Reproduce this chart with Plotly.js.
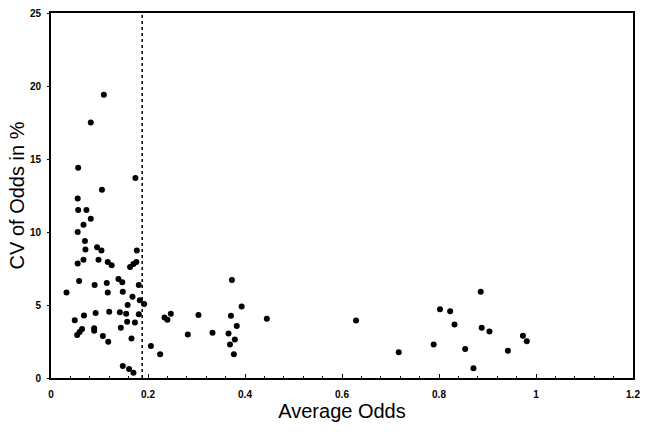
<!DOCTYPE html>
<html><head><meta charset="utf-8">
<script src="https://cdn.plot.ly/plotly-3.0.1.min.js"></script>
<style>html,body{margin:0;padding:0;background:#fff}#chart{width:645px;height:432px}</style>
</head><body><div id="chart"></div>
<script>
const avgOdds = [0.032,0.049,0.054,0.059,0.064,0.055,0.058,0.055,0.055,0.056,0.056,0.067,0.070,0.071,0.067,0.073,0.082,0.082,0.068,0.089,0.089,0.092,0.090,0.095,0.104,0.098,0.105,0.109,0.107,0.115,0.117,0.117,0.118,0.120,0.125,0.139,0.147,0.142,0.144,0.148,0.148,0.155,0.157,0.158,0.161,0.163,0.166,0.168,0.170,0.170,0.173,0.174,0.176,0.177,0.181,0.181,0.183,0.192,0.206,0.225,0.234,0.240,0.247,0.282,0.304,0.333,0.366,0.369,0.371,0.373,0.377,0.379,0.383,0.393,0.445,0.629,0.717,0.789,0.802,0.823,0.832,0.854,0.871,0.886,0.888,0.904,0.942,0.973,0.981];
const cvOdds = [5.85,3.96,2.95,3.15,3.35,7.84,6.64,10.0,12.3,14.4,11.5,10.5,9.38,8.8,8.1,11.5,10.9,17.5,4.28,3.4,3.24,4.45,6.37,8.95,8.74,8.1,12.9,19.4,2.87,6.5,5.85,7.95,2.48,4.54,7.72,6.78,6.55,4.5,3.44,5.9,0.82,4.4,3.85,5.0,0.62,7.6,2.71,5.57,0.36,7.8,3.8,13.7,7.95,8.74,6.37,4.37,5.33,5.06,2.19,1.62,4.15,3.99,4.4,2.98,4.31,3.1,3.05,2.3,4.26,6.71,1.62,2.64,3.57,4.9,4.05,3.94,1.76,2.3,4.71,4.57,3.66,1.98,0.66,5.9,3.44,3.19,1.87,2.9,2.51];
const thresholdX = 0.188;
const xTickVals = [0,0.2,0.4,0.6,0.8,1,1.2];
const xTickText = ['0','0.2','0.4','0.6','0.8','1','1.2'];
const yTickVals = [0,5,10,15,20,25];

const tickFont = {family:'Liberation Sans, Arial, sans-serif', size:10, color:'#000', weight:'bold'};
const titleFont = {family:'Liberation Sans, Arial, sans-serif', size:20, color:'#000'};

Plotly.newPlot('chart', [{
  x: avgOdds, y: cvOdds, type:'scatter', mode:'markers',
  marker:{color:'#000', size:6, symbol:'circle'}, showlegend:false, hoverinfo:'skip'
}], {
  width:645, height:432,
  margin:{l:51, r:12, t:13, b:54},
  paper_bgcolor:'#fff', plot_bgcolor:'#fff',
  xaxis:{range:[0,1.2], tickvals:xTickVals, ticktext:xTickText, showgrid:false, zeroline:false,
    showline:true, linecolor:'#000', linewidth:2, mirror:true,
    ticks:'inside', ticklen:4, tickcolor:'#000', tickwidth:1,
    minor:{dtick:0.04, tick0:0, ticks:'inside', ticklen:2, tickcolor:'#000'},
    tickfont:tickFont, ticklabelstandoff:6,
    title:{text:'Average Odds', font:titleFont, standoff:4}},
  yaxis:{range:[0,25], tickvals:yTickVals, showgrid:false, zeroline:false,
    showline:true, linecolor:'#000', linewidth:2, mirror:true,
    ticks:'outside', ticklen:2, tickcolor:'#000', tickwidth:1,
    tickfont:tickFont, ticklabelstandoff:4,
    title:{text:'CV of Odds in %', font:titleFont, standoff:0}},
  shapes:[{type:'line', xref:'x', yref:'paper', x0:thresholdX, x1:thresholdX, y0:0, y1:1,
    line:{color:'#000', width:1.5, dash:'dot'}}]
}, {staticPlot:true});
</script></body></html>
